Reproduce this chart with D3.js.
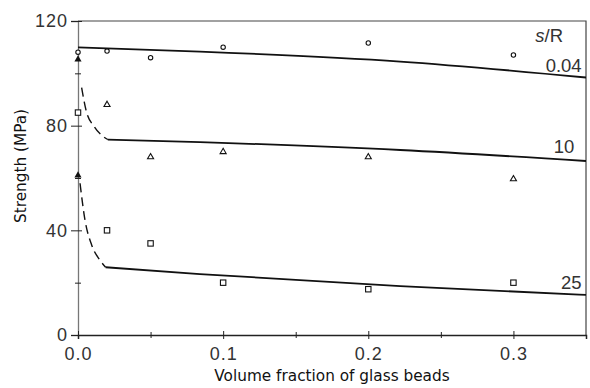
<!DOCTYPE html>
<html>
<head>
<meta charset="utf-8">
<script src="https://cdn.jsdelivr.net/npm/d3@7"></script>
<style>
body{margin:0;background:#fff;}
.tick text{font-family:"Liberation Sans",Arial,sans-serif;font-size:18px;fill:#333;letter-spacing:1px;}
.title{font-family:"DejaVu Sans",sans-serif;font-size:15.3px;fill:#111;}
.curveLabel{font-family:"Liberation Sans",Arial,sans-serif;font-size:18.5px;fill:#333;}
</style>
</head>
<body>
<svg id="chart"></svg>
<script>
// measured points
var xs = [0, 0.02, 0.05, 0.1, 0.2, 0.3]
var circles = [108.1, 108.5, 106, 110, 111.6, 107]     // s/R 0.04
var triangles = [105.5, 88, 68, 70, 68, 59.6]          // s/R 10
var squares = [85, 40, 35, 20, 17.5, 20]               // s/R 25
var filledX = [0, 0]
var filledY = [105.3, 61]

// model curves
var fitX004 = [0, 0.084, 0.222, 0.35]
var fitY004 = [109.9, 108.3, 104.5, 98.4]
var dashX10 = [0.0025, 0.0055, 0.0112, 0.0175, 0.0205]
var dashY10 = [94.5, 86, 79.6, 75.8, 74.7]
var fitX10 = [0.0205, 0.084, 0.222, 0.35]
var fitY10 = [74.7, 73.7, 70.7, 66.5]
var dashX25 = [0.0014, 0.0048, 0.0094, 0.015, 0.019]
var dashY25 = [58, 44, 34.4, 28.7, 25.9]
var fitX25 = [0.019, 0.084, 0.222, 0.35]
var fitY25 = [25.9, 23.3, 18.7, 15.3]

var xMajor = [0, 0.1, 0.2, 0.3]
var xMinor = [0.05, 0.15, 0.25]
var yMajor = [0, 40, 80, 120]
var yMinor = [20, 60, 100]

var curveLabels = [
    {text:"0.04", x:0.347, y:100.5},
    {text:"10", x:0.342, y:69.5},
    {text:"25", x:0.347, y:17.5}
]

var zip = function(a,b){ return a.map(function(v,i){ return [v,b[i]] }) }

var initGraph = function()
{
    var screen = {width:590,height:388}
    var svg = d3.select("#chart")
        .attr("width",screen.width)
        .attr("height",screen.height)

    var xScale = d3.scaleLinear().domain([0,0.35]).range([78,586])
    var yScale = d3.scaleLinear().domain([0,120]).range([335,21])

    // frame (top and right)
    svg.append("path")
        .attr("d","M"+xScale(0)+","+yScale(120)+"H"+xScale(0.35)+"V"+yScale(0))
        .attr("fill","none")
        .attr("stroke","#444")
        .attr("stroke-width",1.2)

    // y axis
    var yAx = svg.append("g")
        .attr("transform","translate("+xScale(0)+",0)")
        .call(d3.axisLeft(yScale).tickValues(yMajor).tickSize(7).tickPadding(3))
    yAx.selectAll(".tick line").attr("x1",4)
    var yAx2 = svg.append("g")
        .attr("transform","translate("+xScale(0)+",0)")
        .call(d3.axisLeft(yScale).tickValues(yMinor).tickSize(3).tickFormat(""))
    yAx2.selectAll(".tick line").attr("x1",3)
    yAx2.select(".domain").remove()
    yAx.select(".domain").attr("stroke","#777").attr("stroke-width",1.3)

    // x axis
    var xAx = svg.append("g")
        .attr("transform","translate(0,"+yScale(0)+")")
        .call(d3.axisBottom(xScale).tickValues(xMajor).tickSize(4).tickPadding(8)
              .tickFormat(d3.format(".1f")))
    xAx.selectAll(".tick line").attr("y1",-4)
    xAx.select(".domain").attr("stroke","#222").attr("stroke-width",1.5)
    var xAx2 = svg.append("g")
        .attr("transform","translate(0,"+yScale(0)+")")
        .call(d3.axisBottom(xScale).tickValues(xMinor).tickSize(3).tickFormat(""))
    xAx2.selectAll(".tick line").attr("y1",-3)
    xAx2.select(".domain").remove()
    svg.selectAll(".tick line").attr("stroke","#222")

    // curves
    var line = d3.line()
        .curve(d3.curveMonotoneX)
        .x(function(d){ return xScale(d[0]) })
        .y(function(d){ return yScale(d[1]) })
    var solids = [zip(fitX004,fitY004), zip(fitX10,fitY10), zip(fitX25,fitY25)]
    var dashes = [zip(dashX10,dashY10), zip(dashX25,dashY25)]
    svg.append("g").selectAll("path")
        .data(solids)
        .enter()
        .append("path")
        .attr("d",line)
        .attr("fill","none")
        .attr("stroke","#111")
        .attr("stroke-width",1.8)
    svg.append("g").selectAll("path")
        .data(dashes)
        .enter()
        .append("path")
        .attr("d",line)
        .attr("fill","none")
        .attr("stroke","#111")
        .attr("stroke-width",1.4)
        .attr("stroke-dasharray","9,5")

    // markers
    var marks = svg.append("g")
    marks.selectAll("circle")
        .data(zip(xs,circles))
        .enter()
        .append("circle")
        .attr("cx",function(d){ return xScale(d[0]) })
        .attr("cy",function(d){ return yScale(d[1]) })
        .attr("r",2.2)
        .attr("fill","white")
        .attr("stroke","#111")
        .attr("stroke-width",1.1)
    var tri = d3.symbol().type(d3.symbolTriangle).size(16)
    marks.selectAll(".tri")
        .data(zip(xs,triangles).slice(1))
        .enter()
        .append("path")
        .classed("tri",true)
        .attr("d",tri)
        .attr("transform",function(d){ return "translate("+xScale(d[0])+","+yScale(d[1])+")" })
        .attr("fill","white")
        .attr("stroke","#111")
        .attr("stroke-width",1.1)
    marks.selectAll(".ftri")
        .data(zip(filledX,filledY))
        .enter()
        .append("path")
        .classed("ftri",true)
        .attr("d",d3.symbol().type(d3.symbolTriangle).size(22))
        .attr("transform",function(d){ return "translate("+xScale(d[0])+","+yScale(d[1])+")" })
        .attr("fill","#111")
    marks.selectAll("rect")
        .data(zip(xs,squares))
        .enter()
        .append("rect")
        .attr("x",function(d){ return xScale(d[0])-2.7 })
        .attr("y",function(d){ return yScale(d[1])-2.7 })
        .attr("width",5.4)
        .attr("height",5.4)
        .attr("fill","white")
        .attr("stroke","#111")
        .attr("stroke-width",1.1)

    // labels
    var labels = svg.append("g")
    labels.selectAll("text")
        .data(curveLabels)
        .enter()
        .append("text")
        .classed("curveLabel",true)
        .attr("text-anchor","end")
        .attr("x",function(d){ return xScale(d.x) })
        .attr("y",function(d){ return yScale(d.y) })
        .text(function(d){ return d.text })
    var sr = labels.append("text")
        .classed("curveLabel",true)
        .attr("text-anchor","end")
        .attr("x",563)
        .attr("y",42)
    sr.append("tspan").attr("font-style","italic").text("s")
    sr.append("tspan").text("/R")

    labels.append("text")
        .classed("title",true)
        .attr("text-anchor","middle")
        .attr("x",332)
        .attr("y",381)
        .text("Volume fraction of glass beads")
    labels.append("g")
        .attr("transform","translate(26,166)")
        .append("text")
        .classed("title",true)
        .attr("text-anchor","middle")
        .attr("transform","rotate(270)")
        .text("Strength (MPa)")
}

initGraph()
</script>
</body>
</html>
